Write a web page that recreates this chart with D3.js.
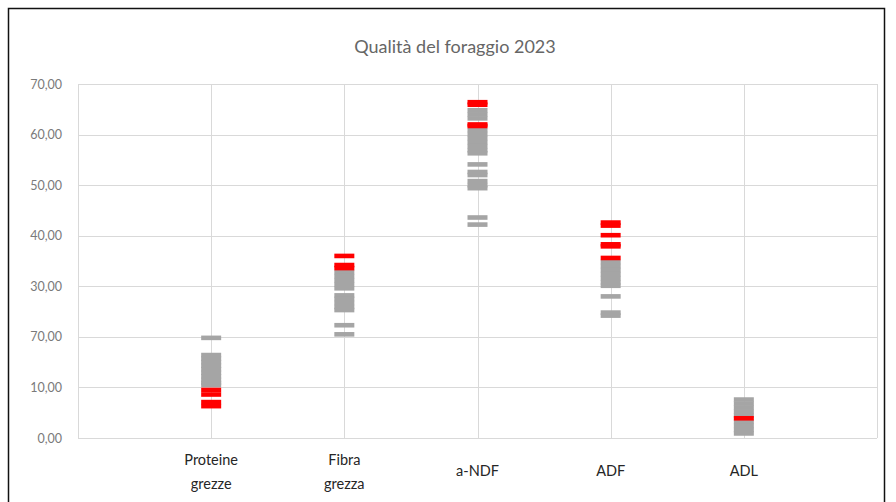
<!DOCTYPE html>
<html>
<head>
<meta charset="utf-8">
<script src="https://cdn.jsdelivr.net/npm/d3@7"></script>
<style>
  html, body { margin: 0; padding: 0; background: #fff; }
  svg { display: block; }
</style>
</head>
<body>
<svg id="chart" width="896" height="502"></svg>
<script>
// Forage quality 2023: one column of dash markers per parameter
const title = "Qualità del foraggio 2023";
const categories = [
  ["Proteine", "grezze"],
  ["Fibra", "grezza"],
  ["a-NDF"],
  ["ADF"],
  ["ADL"]
];
const tickValues = [0, 10, 20, 30, 40, 50, 60, 70];
const tickLabels = ["0,00", "10,00", "70,00", "30,00", "40,00", "50,00", "60,00", "70,00"];

// Samples within range (grey) and out of range (red), per category
const greyValues = [
  [19.8, 16.4, 15.7, 15.0, 14.3, 13.6, 12.9, 12.2, 11.5, 10.9, 10.5],
  [32.8, 32.0, 31.2, 30.4, 29.6, 28.2, 27.5, 26.7, 25.9, 25.3, 22.3, 20.5],
  [64.8, 64.0, 63.2, 60.9, 60.1, 59.3, 58.5, 57.7, 56.9, 56.3, 54.1, 52.6, 52.0, 50.8, 50.0, 49.4, 43.6, 42.2],
  [34.8, 34.0, 33.2, 32.4, 31.6, 30.8, 30.1, 28.0, 24.8, 24.2],
  [7.6, 6.8, 6.0, 5.2, 4.4, 3.2, 2.4, 1.6, 0.9]
];
const redValues = [
  [9.5, 8.6, 7.1, 6.3],
  [36.0, 34.2, 33.6],
  [66.4, 65.9, 62.0, 61.7],
  [42.6, 42.0, 40.1, 38.3, 37.9, 35.6],
  [3.9]
];

const svg = d3.select("#chart");

const x = d3.scaleLinear().domain([0, 6]).range([78, 877]);
const y = d3.scaleLinear().domain([0, 70]).range([438, 84]);

const font = "Lato, 'Open Sans', sans-serif";

// outer frame
svg.append("rect")
  .attr("x", 8.5).attr("y", 8.5)
  .attr("width", 876).attr("height", 600)
  .attr("fill", "none").attr("stroke", "#111").attr("stroke-width", 1.5);

// horizontal gridlines
svg.append("g").selectAll("line").data(tickValues).join("line")
  .attr("x1", x(0)).attr("x2", x(6))
  .attr("y1", d => Math.round(y(d)) + 0.5).attr("y2", d => Math.round(y(d)) + 0.5)
  .attr("stroke", "#d9d9d9").attr("stroke-width", 1);

// vertical gridlines
svg.append("g").selectAll("line").data(d3.range(0, 7)).join("line")
  .attr("x1", d => Math.round(x(d)) + 0.5).attr("x2", d => Math.round(x(d)) + 0.5)
  .attr("y1", y(70)).attr("y2", y(0))
  .attr("stroke", "#d9d9d9").attr("stroke-width", 1);

// y axis labels
const yAxis = d3.axisLeft(y).tickValues(tickValues)
  .tickFormat((d, i) => tickLabels[i]).tickSize(0).tickPadding(16);
const gy = svg.append("g").attr("transform", `translate(${x(0)},0)`).call(yAxis);
gy.select(".domain").remove();
gy.selectAll("text")
  .attr("font-family", font).attr("font-size", 12.5)
  .attr("fill", "#7a7a7a");

// category labels
const gc = svg.append("g");
categories.forEach((lines, i) => {
  const cx = x(i + 1);
  const t = gc.append("text")
    .attr("x", cx)
    .attr("text-anchor", "middle")
    .attr("font-family", font).attr("font-size", 14.5)
    .attr("fill", "#262626");
  if (lines.length === 2) {
    t.append("tspan").attr("x", cx).attr("y", 465).text(lines[0]);
    t.append("tspan").attr("x", cx).attr("y", 489).text(lines[1]);
  } else {
    t.append("tspan").attr("x", cx).attr("y", 476).text(lines[0]);
  }
});

// dash markers
const mw = 20, mh = 4.6;
function drawMarkers(values, color) {
  const pts = values.flatMap((vals, i) => vals.map(v => ({ c: i + 1, v })));
  svg.append("g").selectAll("rect").data(pts).join("rect")
    .attr("x", d => x(d.c) - mw / 2)
    .attr("y", d => y(d.v) - mh / 2)
    .attr("width", mw).attr("height", mh)
    .attr("fill", color);
}
drawMarkers(greyValues, "#a5a5a5");
drawMarkers(redValues, "#ff0000");

// title
svg.append("text")
  .attr("x", 455).attr("y", 53)
  .attr("text-anchor", "middle")
  .attr("font-family", font).attr("font-size", 18)
  .attr("fill", "#666666")
  .text(title);
</script>
</body>
</html>
